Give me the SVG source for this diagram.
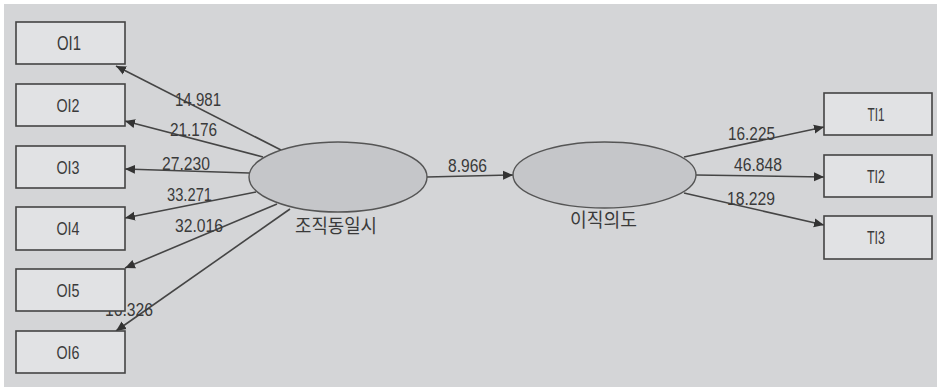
<svg xmlns="http://www.w3.org/2000/svg" width="937" height="387" viewBox="0 0 937 387">
  <style>
    .box { fill: #e1e2e4; stroke: #444; stroke-width: 1.6; }
    .lv { fill: #c5c6c9; stroke: #555; stroke-width: 1.4; }
    .edge { stroke: #454545; stroke-width: 1.6; fill: none; marker-end: url(#tip); }
    .lbl { font-family: "Liberation Sans", Arial, sans-serif; font-size: 18px; fill: #3a3a3a; text-anchor: middle; }
    .num { font-family: "Liberation Sans", Arial, sans-serif; font-size: 18px; fill: #3a3a3a; }
    .ko { font-family: "Liberation Sans", "Noto Sans CJK KR", sans-serif; font-size: 19px; fill: #3a3a3a; }
  </style>
  <defs>
    <marker id="tip" viewBox="0 0 10 10" refX="10" refY="5" markerWidth="10" markerHeight="10" markerUnits="userSpaceOnUse" orient="auto">
      <path d="M0,0.5 L10,5 L0,9.5 z" fill="#333"/>
    </marker>
  </defs>

  <!-- canvas -->
  <rect x="0" y="0" width="937" height="387" fill="#ffffff"/>
  <rect x="4" y="4" width="933" height="383" fill="#d4d5d7"/>

  <!-- connectors -->
  <g id="connectors">
    <line class="edge" x1="281" y1="150" x2="116" y2="66"/>
    <line class="edge" x1="263" y1="157" x2="125" y2="121"/>
    <line class="edge" x1="249" y1="173" x2="125" y2="169"/>
    <line class="edge" x1="256" y1="192" x2="125" y2="218"/>
    <line class="edge" x1="277" y1="204" x2="125" y2="268"/>
    <line class="edge" x1="290" y1="209" x2="116" y2="331"/>
    <line class="edge" x1="427" y1="177" x2="513" y2="175"/>
    <line class="edge" x1="684" y1="157" x2="824" y2="127"/>
    <line class="edge" x1="696" y1="175" x2="824" y2="177"/>
    <line class="edge" x1="684" y1="193" x2="824" y2="225"/>

    <text class="num" x="175" y="106" textLength="46" lengthAdjust="spacingAndGlyphs">14.981</text>
    <text class="num" x="170" y="136" textLength="47" lengthAdjust="spacingAndGlyphs">21.176</text>
    <text class="num" x="162" y="170" textLength="48" lengthAdjust="spacingAndGlyphs">27.230</text>
    <text class="num" x="167" y="201" textLength="45" lengthAdjust="spacingAndGlyphs">33.271</text>
    <text class="num" x="175" y="232" textLength="48" lengthAdjust="spacingAndGlyphs">32.016</text>
    <text class="num" x="105" y="316" textLength="48" lengthAdjust="spacingAndGlyphs">16.326</text>
    <text class="num" x="448" y="172" textLength="39" lengthAdjust="spacingAndGlyphs">8.966</text>
    <text class="num" x="728" y="140" textLength="47" lengthAdjust="spacingAndGlyphs">16.225</text>
    <text class="num" x="734" y="171" textLength="48" lengthAdjust="spacingAndGlyphs">46.848</text>
    <text class="num" x="727" y="205" textLength="48" lengthAdjust="spacingAndGlyphs">18.229</text>
  </g>

  <!-- indicator boxes: organizational identification -->
  <g id="OI1"><rect class="box" x="16" y="22" width="109" height="42"/><text class="lbl" x="69" y="50" textLength="24" lengthAdjust="spacingAndGlyphs" style="font-size:21px">OI1</text></g>
  <g id="OI2"><rect class="box" x="16" y="84" width="109" height="42"/><text class="lbl" x="68" y="112" textLength="23" lengthAdjust="spacingAndGlyphs">OI2</text></g>
  <g id="OI3"><rect class="box" x="16" y="146" width="109" height="42"/><text class="lbl" x="68" y="174" textLength="23" lengthAdjust="spacingAndGlyphs">OI3</text></g>
  <g id="OI4"><rect class="box" x="16" y="207" width="109" height="43"/><text class="lbl" x="68" y="235" textLength="23" lengthAdjust="spacingAndGlyphs">OI4</text></g>
  <g id="OI5"><rect class="box" x="16" y="269" width="109" height="42"/><text class="lbl" x="68" y="297" textLength="23" lengthAdjust="spacingAndGlyphs">OI5</text></g>
  <g id="OI6"><rect class="box" x="16" y="331" width="109" height="42"/><text class="lbl" x="68" y="359" textLength="23" lengthAdjust="spacingAndGlyphs">OI6</text></g>

  <!-- latent variables -->
  <g id="org-identification">
    <ellipse class="lv" cx="338" cy="177" rx="89" ry="35"/>
    <text class="ko" x="295" y="233" textLength="82" lengthAdjust="spacingAndGlyphs">조직동일시</text>
  </g>
  <g id="turnover-intention">
    <ellipse class="lv" cx="604.5" cy="175" rx="91.5" ry="33"/>
    <text class="ko" x="570" y="227" textLength="67" lengthAdjust="spacingAndGlyphs">이직의도</text>
  </g>

  <!-- indicator boxes: turnover intention -->
  <g id="TI1"><rect class="box" x="824" y="93" width="108" height="42"/><text class="lbl" x="876" y="121" textLength="17" lengthAdjust="spacingAndGlyphs">TI1</text></g>
  <g id="TI2"><rect class="box" x="824" y="155" width="108" height="42"/><text class="lbl" x="876" y="183" textLength="18" lengthAdjust="spacingAndGlyphs">TI2</text></g>
  <g id="TI3"><rect class="box" x="824" y="216" width="108" height="43"/><text class="lbl" x="876" y="244" textLength="18" lengthAdjust="spacingAndGlyphs">TI3</text></g>
</svg>
